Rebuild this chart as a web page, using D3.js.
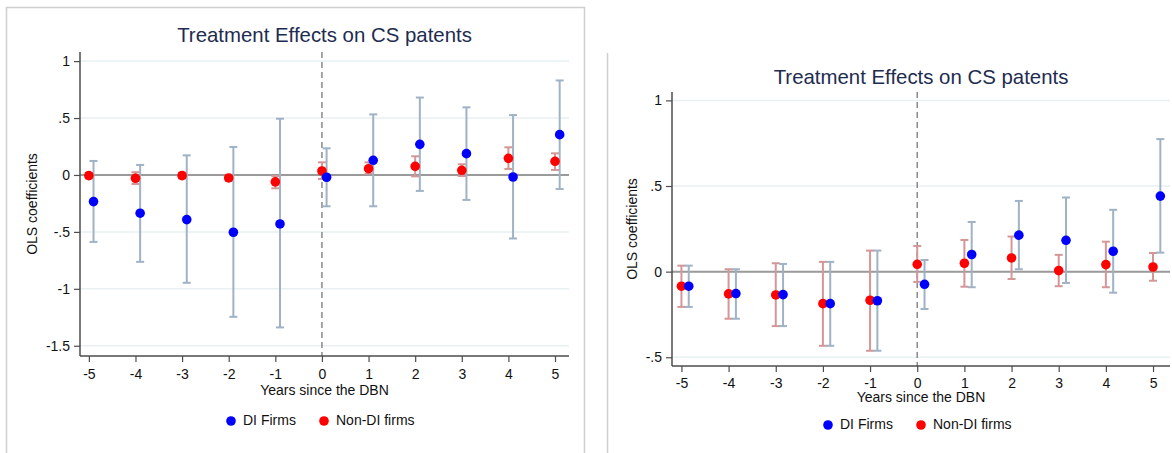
<!DOCTYPE html>
<html>
<head>
<meta charset="utf-8">
<script src="https://cdn.jsdelivr.net/npm/d3@7"></script>
<style>
  body { margin: 0; background: #fff; }
  text { font-family: Arial, "Liberation Sans", sans-serif; }
</style>
</head>
<body>
<script>
'use strict';

const years = [-5, -4, -3, -2, -1, 0, 1, 2, 3, 4, 5]
const titleText = "Treatment Effects on CS patents"
const xTitle = "Years since the DBN"
const yTitle = "OLS coefficients"
const seriesNames = ["DI Firms", "Non-DI firms"]

// left panel
const leftTicks = [1, 0.5, 0, -0.5, -1, -1.5]
const leftTickLabels = ["1", ".5", "0", "-.5", "-1", "-1.5"]
const leftDI = [-0.234, -0.336, -0.392, -0.503, -0.43, -0.02, 0.129, 0.269, 0.187, -0.018, 0.354]
const leftDIlo = [-0.588, -0.763, -0.947, -1.246, -1.339, -0.275, -0.275, -0.14, -0.219, -0.558, -0.123]
const leftDIhi = [0.123, 0.088, 0.172, 0.246, 0.494, 0.234, 0.532, 0.68, 0.594, 0.526, 0.83]
const leftNon = [-0.006, -0.029, -0.006, -0.026, -0.061, 0.035, 0.055, 0.076, 0.041, 0.146, 0.12]
const leftNonLo = [-0.03, -0.079, -0.03, -0.05, -0.117, -0.035, 0.011, -0.012, -0.009, 0.053, 0.044]
const leftNonHi = [0.018, 0.024, 0.02, 0.0, -0.009, 0.111, 0.111, 0.164, 0.094, 0.243, 0.19]

// right panel
const rightTicks = [1, 0.5, 0, -0.5]
const rightTickLabels = ["1", ".5", "0", "-.5"]
const rightDI = [-0.085, -0.128, -0.134, -0.187, -0.17, -0.074, 0.1, 0.213, 0.183, 0.119, 0.441]
const rightDIlo = [-0.206, -0.275, -0.318, -0.433, -0.462, -0.218, -0.091, 0.014, -0.066, -0.123, 0.111]
const rightDIhi = [0.035, 0.014, 0.045, 0.057, 0.123, 0.068, 0.29, 0.413, 0.433, 0.361, 0.774]
const rightNon = [-0.085, -0.13, -0.136, -0.187, -0.167, 0.043, 0.049, 0.08, 0.006, 0.041, 0.027]
const rightNonLo = [-0.206, -0.275, -0.318, -0.433, -0.462, -0.06, -0.088, -0.043, -0.085, -0.091, -0.053]
const rightNonHi = [0.035, 0.014, 0.049, 0.057, 0.123, 0.15, 0.185, 0.205, 0.098, 0.175, 0.109]

const colors = {
  di: "#0000ff",
  non: "#ff0000",
  diCI: "#9fb2c6",
  nonCI: "#d49696",
  grid: "#e8f0f2",
  axis: "#4d4d4d",
  zero: "#9a9a9a",
  title: "#1e2c50"
}

const svg = d3.select('body')
  .append('svg')
  .attr('width', 1172)
  .attr('height', 453)

// panel frames
svg.append('path')
  .attr('d', 'M6.5,453 V7.5 H584.5 V453')
  .attr('fill', 'none')
  .attr('stroke', '#cfcfcf')
  .attr('stroke-width', 1.5)
svg.append('line')
  .attr('x1', 607.5).attr('x2', 607.5)
  .attr('y1', 53).attr('y2', 453)
  .attr('stroke', '#cfcfcf')
  .attr('stroke-width', 1.5)

drawPanel({
  x0: 80, x1: 569, y0: 52, y1: 356,
  xDom: [-5.19, 5.3], yDom: [-1.59, 1.08],
  ticks: leftTicks, tickLabels: leftTickLabels,
  di: leftDI, diLo: leftDIlo, diHi: leftDIhi,
  non: leftNon, nonLo: leftNonLo, nonHi: leftNonHi,
  diShift: 0.1, titleY: 37, yTitleX: 33, tickY: 375, xTitleY: 391, legendY: 421,
  legendX: [231, 324]
})

drawPanel({
  x0: 672, x1: 1170, y0: 92, y1: 366,
  xDom: [-5.2, 5.36], yDom: [-0.551, 1.049],
  ticks: rightTicks, tickLabels: rightTickLabels,
  di: rightDI, diLo: rightDIlo, diHi: rightDIhi,
  non: rightNon, nonLo: rightNonLo, nonHi: rightNonHi,
  diShift: 0.155, titleY: 79, yTitleX: 633, tickY: 384, xTitleY: 398, legendY: 425,
  legendX: [828, 921]
})

function drawPanel(p) {
  const g = svg.append('g')
  const x = d3.scaleLinear().domain(p.xDom).range([p.x0, p.x1])
  const y = d3.scaleLinear().domain(p.yDom).range([p.y1, p.y0])
  const cx = (p.x0 + p.x1) / 2

  // gridlines
  g.selectAll('.grid')
    .data(p.ticks)
    .enter()
    .append('line')
      .attr('x1', p.x0).attr('x2', p.x1)
      .attr('y1', d => y(d)).attr('y2', d => y(d))
      .attr('stroke', colors.grid)
      .attr('stroke-width', 1.5)

  // zero line
  g.append('line')
    .attr('x1', p.x0).attr('x2', p.x1)
    .attr('y1', y(0)).attr('y2', y(0))
    .attr('stroke', colors.zero)
    .attr('stroke-width', 2)

  // treatment line at 0
  g.append('line')
    .attr('x1', x(0)).attr('x2', x(0))
    .attr('y1', p.y0).attr('y2', p.y1)
    .attr('stroke', '#8a8a8a')
    .attr('stroke-width', 1.5)
    .attr('stroke-dasharray', '6,4')

  // y axis
  const yAxis = d3.axisLeft(y)
    .tickValues(p.ticks)
    .tickFormat((d, i) => p.tickLabels[i])
    .tickSize(6)
    .tickPadding(4)
  const ya = g.append('g')
    .attr('transform', 'translate(' + p.x0 + ',0)')
    .call(yAxis)
  ya.select('.domain').attr('d', 'M0,' + p.y0 + 'V' + p.y1)

  // x axis (plain hyphen for negatives, like the original)
  const xAxis = d3.axisBottom(x)
    .tickValues(years)
    .tickFormat(d => String(d))
    .tickSize(6)
    .tickPadding(6)
  const xa = g.append('g')
    .attr('transform', 'translate(0,' + p.y1 + ')')
    .call(xAxis)
  xa.select('.domain').attr('d', 'M' + p.x0 + ',0H' + p.x1)

  g.selectAll('.domain')
    .attr('stroke', colors.axis)
    .attr('stroke-width', 1.5)
  g.selectAll('.tick line')
    .attr('stroke', colors.axis)
    .attr('stroke-width', 1.2)
  g.selectAll('.tick text')
    .attr('fill', '#111')
    .style('font-size', '14px')
    .style('font-family', 'Arial, "Liberation Sans", sans-serif')
  xa.selectAll('.tick text').attr('dy', null).attr('y', p.tickY - p.y1).attr('dominant-baseline', 'middle')

  // error bars
  const ciData = []
  years.forEach((yr, i) => {
    ciData.push({x: yr, lo: p.nonLo[i], hi: p.nonHi[i], c: colors.nonCI})
    ciData.push({x: yr + p.diShift, lo: p.diLo[i], hi: p.diHi[i], c: colors.diCI})
  })
  const ci = g.selectAll('.ci')
    .data(ciData)
    .enter()
    .append('g')
  ci.append('line')
    .attr('x1', d => x(d.x)).attr('x2', d => x(d.x))
    .attr('y1', d => y(d.lo)).attr('y2', d => y(d.hi))
    .attr('stroke', d => d.c)
    .attr('stroke-width', 2)
  ci.selectAll('.cap')
    .data(d => [{x: d.x, v: d.lo, c: d.c}, {x: d.x, v: d.hi, c: d.c}])
    .enter()
    .append('line')
      .attr('x1', d => x(d.x) - 4).attr('x2', d => x(d.x) + 4)
      .attr('y1', d => y(d.v)).attr('y2', d => y(d.v))
      .attr('stroke', d => d.c)
      .attr('stroke-width', 2)

  // points: red first, blue on top
  g.selectAll('.non')
    .data(p.non)
    .enter()
    .append('circle')
      .attr('cx', (d, i) => x(years[i]))
      .attr('cy', d => y(d))
      .attr('r', 4.8)
      .attr('fill', colors.non)
  g.selectAll('.di')
    .data(p.di)
    .enter()
    .append('circle')
      .attr('cx', (d, i) => x(years[i] + p.diShift))
      .attr('cy', d => y(d))
      .attr('r', 4.8)
      .attr('fill', colors.di)

  // title and axis titles
  g.append('text')
    .attr('x', cx)
    .attr('y', p.titleY)
    .attr('text-anchor', 'middle')
    .attr('dominant-baseline', 'middle')
    .attr('fill', colors.title)
    .style('font-size', '20.4px')
    .text(titleText)

  g.append('text')
    .attr('x', cx)
    .attr('y', p.xTitleY)
    .attr('text-anchor', 'middle')
    .attr('dominant-baseline', 'middle')
    .attr('fill', '#111')
    .style('font-size', '14px')
    .text(xTitle)

  g.append('text')
    .attr('transform', 'translate(' + p.yTitleX + ',' + ((p.y0 + p.y1) / 2) + ')rotate(-90)')
    .attr('text-anchor', 'middle')
    .attr('dominant-baseline', 'middle')
    .attr('fill', '#111')
    .style('font-size', '14px')
    .text(yTitle)

  // legend
  const legColors = [colors.di, colors.non]
  seriesNames.forEach((name, i) => {
    g.append('circle')
      .attr('cx', p.legendX[i])
      .attr('cy', p.legendY)
      .attr('r', 4.8)
      .attr('fill', legColors[i])
    g.append('text')
      .attr('x', p.legendX[i] + 12)
      .attr('y', p.legendY)
      .attr('dominant-baseline', 'middle')
      .attr('fill', '#111')
      .style('font-size', '14px')
      .text(name)
  })
}
</script>
</body>
</html>
